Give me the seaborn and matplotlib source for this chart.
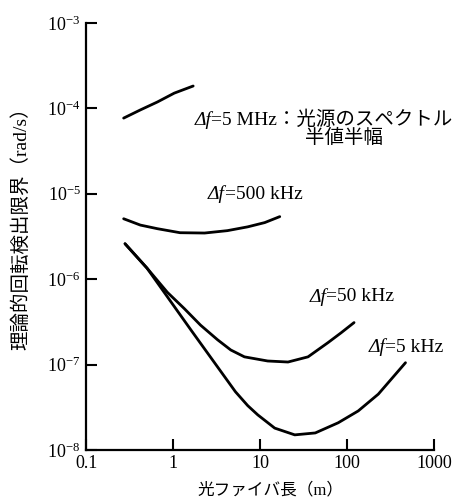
import numpy as np
import pandas as pd
import matplotlib
matplotlib.use("Agg")
import matplotlib.pyplot as plt
import seaborn as sns

# fibre length (m) and rotation detection limit (rad/s)
x_5mhz = [0.27, 0.42, 0.66, 1.03, 1.7]
y_5mhz = [7.7e-5, 9.6e-5, 1.19e-4, 1.51e-4, 1.83e-4]

x_500k = [0.27, 0.42, 0.66, 1.2, 2.3, 4.2, 7.2, 11.3, 16.8]
y_500k = [5.1e-6, 4.3e-6, 3.9e-6, 3.5e-6, 3.47e-6, 3.7e-6, 4.1e-6, 4.6e-6, 5.4e-6]

x_50k = [0.28, 0.5, 0.86, 1.35, 2.06, 3.24, 4.6, 6.6, 12.2, 20.9, 35.5, 60, 85, 120]
y_50k = [2.6e-6, 1.35e-6, 7.0e-7, 4.5e-7, 2.9e-7, 1.95e-7, 1.48e-7, 1.23e-7, 1.1e-7,
         1.07e-7, 1.23e-7, 1.8e-7, 2.35e-7, 3.1e-7]

x_5k = [0.28, 0.5, 1.62, 5.2, 7.2, 9.4, 14.7, 25, 43, 79, 134, 228, 468]
y_5k = [2.6e-6, 1.35e-6, 2.5e-7, 4.8e-8, 3.3e-8, 2.57e-8, 1.8e-8, 1.5e-8, 1.58e-8,
        2.08e-8, 2.86e-8, 4.5e-8, 1.05e-7]

x_ticks = [0.1, 1, 10, 100, 1000]
x_ticklabels = ["0.1", "1", "10", "100", "1000"]
y_ticks = [1e-8, 1e-7, 1e-6, 1e-5, 1e-4, 1e-3]

# (italic part, rest, x, y) for the curve labels
labels = [
    ("Δf", "=5 MHz：光源のスペクトル", 1.76, 7.3e-5),
    ("Δf", "=500 kHz", 2.5, 9.8e-6),
    ("Δf", "=50 kHz", 37, 6.2e-7),
    ("Δf", "=5 kHz", 175, 1.6e-7),
]

sns.set_theme(style="ticks")
fams = ["Liberation Serif", "Noto Sans CJK JP"]
plt.rcParams["font.family"] = fams
plt.rcParams["mathtext.fontset"] = "stix"

fig = plt.figure(figsize=(4.58, 5.01), dpi=100)
ax = fig.add_axes([0.188, 0.102, 0.760, 0.852])

curves = [(x_5mhz, y_5mhz), (x_500k, y_500k), (x_50k, y_50k), (x_5k, y_5k)]
for xs, ys in curves:
    df = pd.DataFrame({"L": xs, "omega": ys})
    sns.lineplot(data=df, x="L", y="omega", color="black", lw=2.0, sort=False, ax=ax,
                 solid_joinstyle="round", solid_capstyle="round")

ax.set_xscale("log")
ax.set_yscale("log")
ax.set_xlim(0.1, 1000)
ax.set_ylim(1e-8, 1e-3)
ax.set_xticks(x_ticks)
ax.set_xticklabels(x_ticklabels)
ax.set_yticks(y_ticks)
ax.minorticks_off()
ax.tick_params(direction="in", length=8, width=1.5, labelsize=13, colors="black", pad=4)
for s in ["top", "right"]:
    ax.spines[s].set_visible(False)
for s in ["left", "bottom"]:
    ax.spines[s].set_linewidth(1.6)
    ax.spines[s].set_color("black")

ax.set_xlabel("光ファイバ長（m）", fontsize=12, color="black")
ax.set_ylabel("理論的回転検出限界（rad/s）", fontsize=14, color="black")
ax.xaxis.set_label_coords(0.53, -0.075)
ax.yaxis.set_label_coords(-0.16, 0.53)

for ital, rest, lx, ly in labels:
    t = ax.text(lx, ly, ital, style="italic", fontsize=14, va="center", ha="left",
                family=fams, color="black")
    ax.annotate(rest, xy=(1, 0.5), xycoords=t, va="center", ha="left",
                fontsize=14, family=fams, color="black")
ax.text(93, 4.5e-5, "半値半幅", fontsize=14, va="center", ha="center",
        family=fams, color="black")

fig.savefig("out.png", dpi=100)
